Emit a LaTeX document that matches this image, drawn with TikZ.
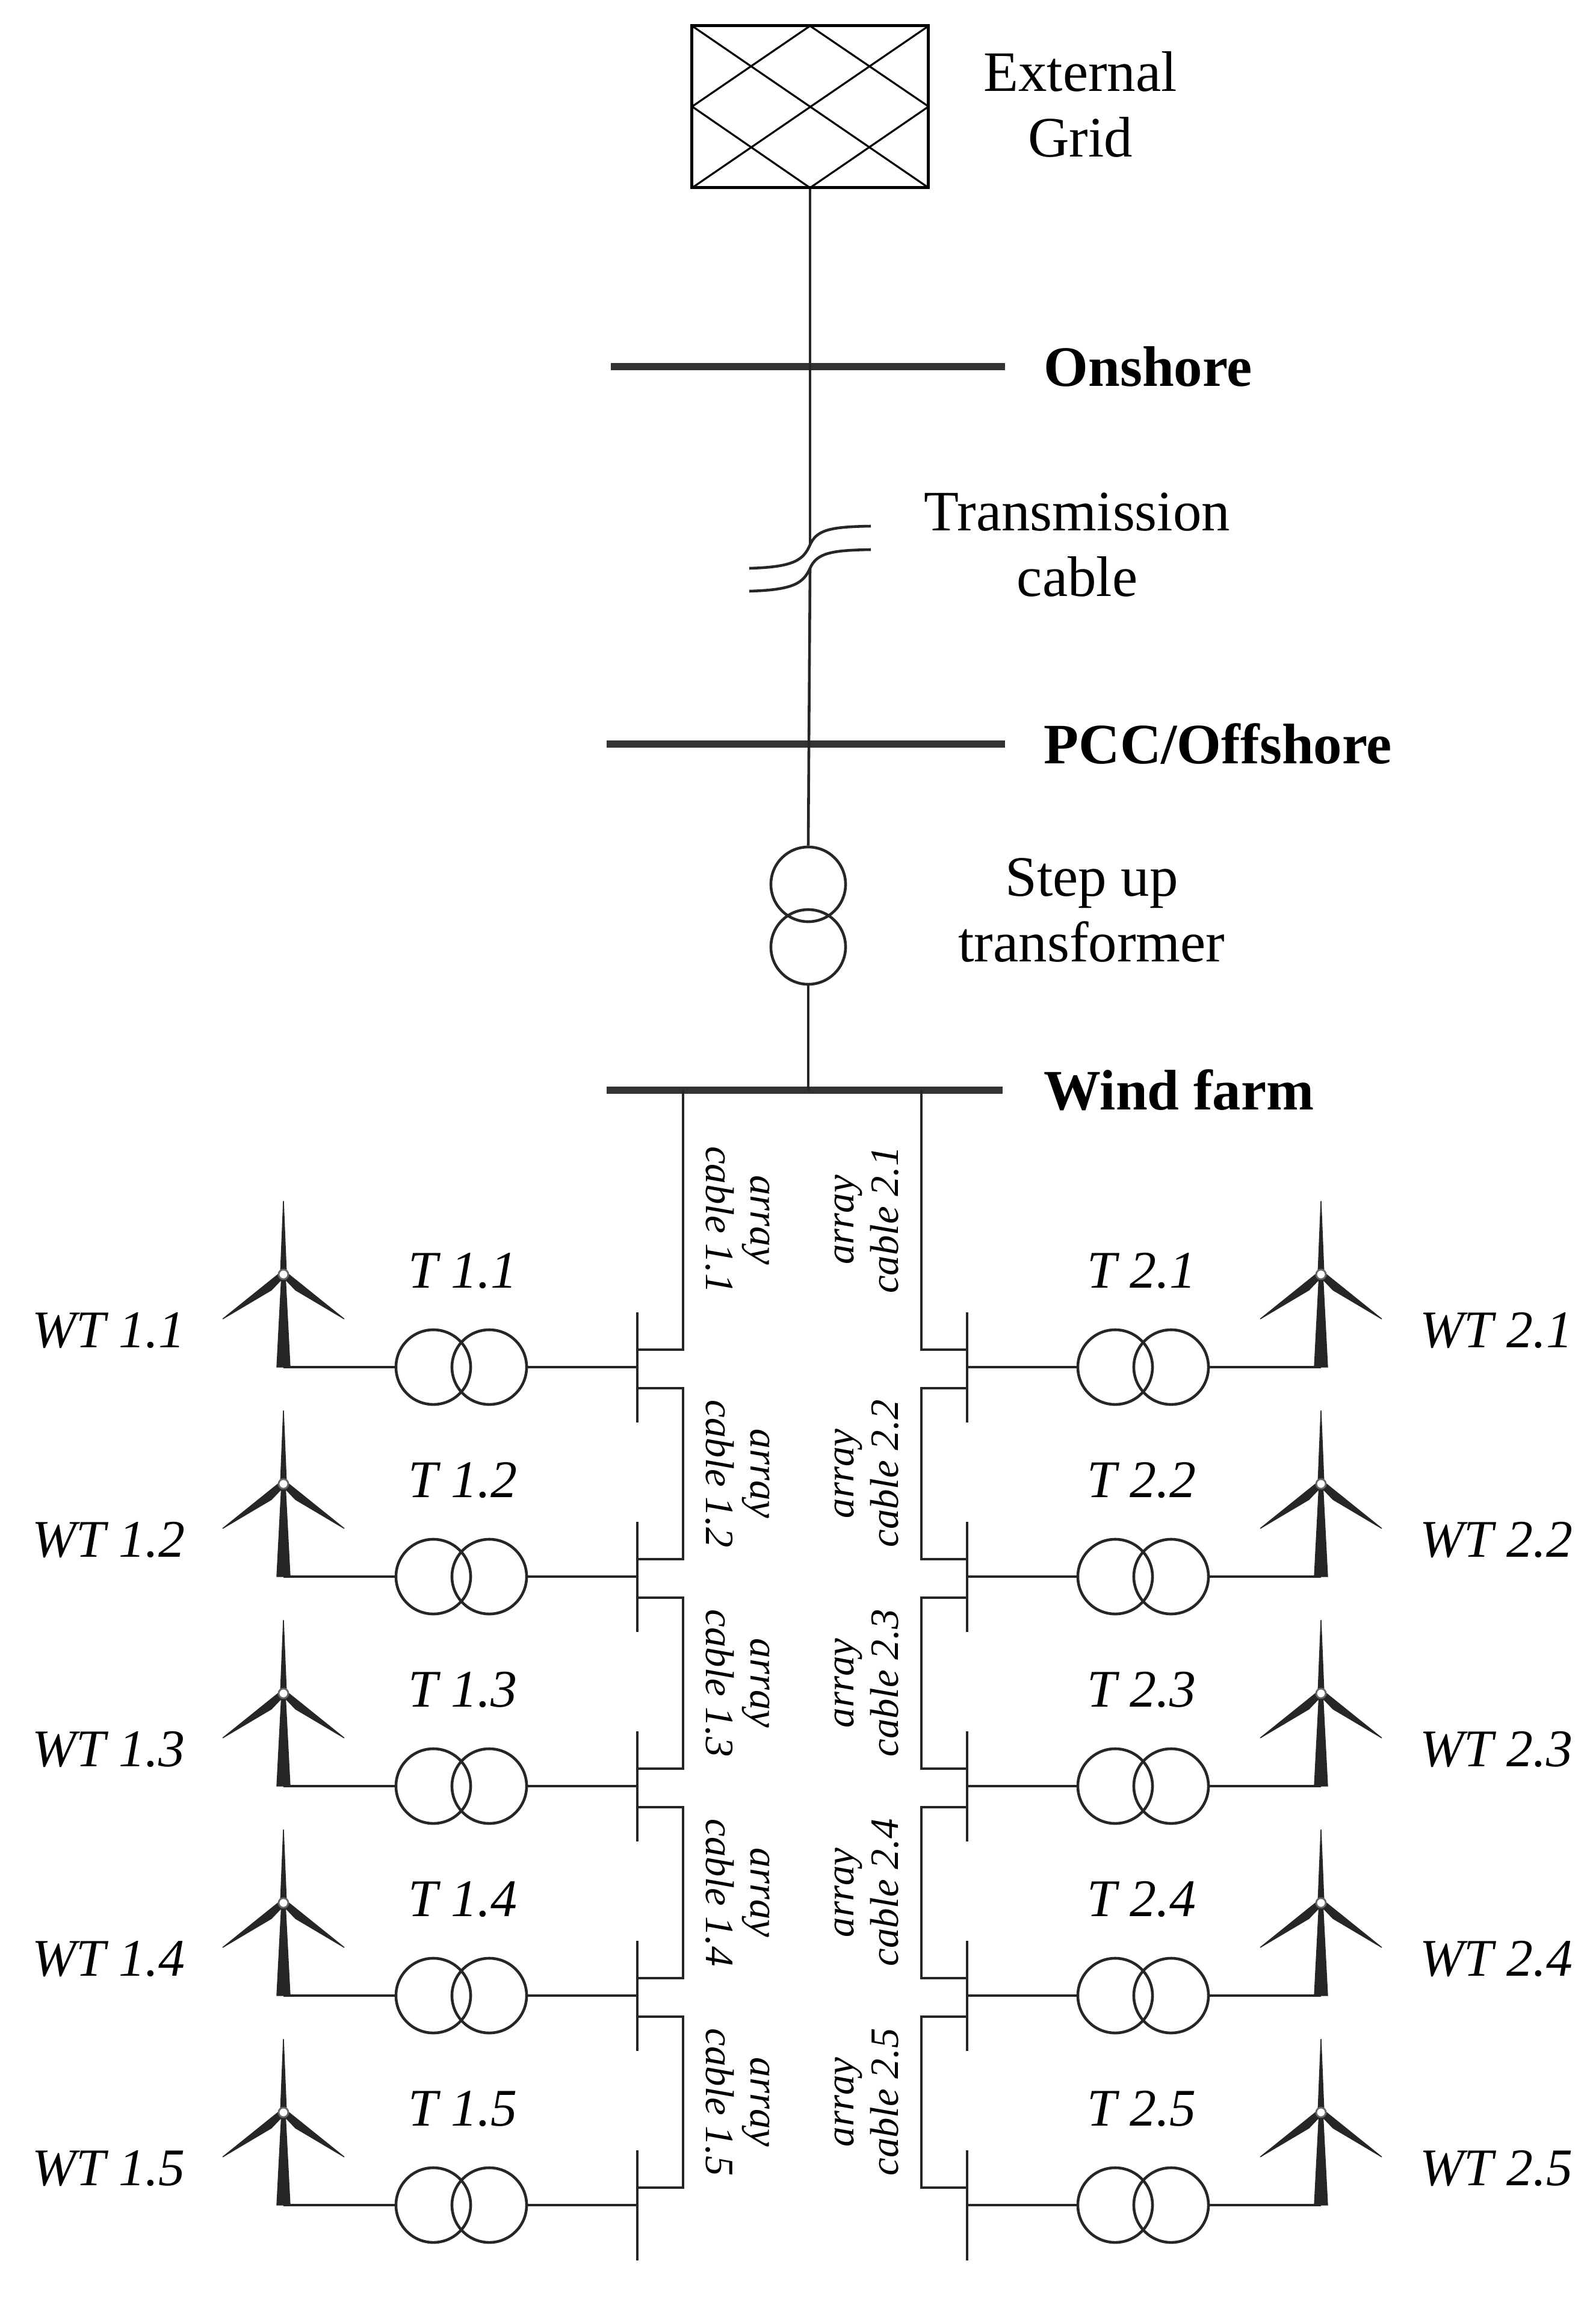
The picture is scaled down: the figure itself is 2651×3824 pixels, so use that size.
\documentclass[tikz,border=0pt]{standalone}
\usepackage{fontspec}
\setmainfont{Liberation Serif}
\begin{document}
\begin{tikzpicture}[x=0.01cm,y=-0.01cm,
  thin line/.style={line width=1.3pt,draw=black!85},
  bar/.style={line width=3.2pt,draw=black!80},
  trafo/.style={circle,draw=black!85,line width=1.3pt,minimum size=1.24cm,inner sep=0pt},
  lbl/.style={font=\fontsize{27}{31}\selectfont,align=center},
  blbl/.style={font=\fontsize{27}{31}\selectfont\bfseries,anchor=west},
  ilbl/.style={font=\fontsize{25}{29}\selectfont\itshape},
  clbl/.style={font=\fontsize{19}{21}\selectfont\itshape,align=center,inner sep=0pt},
  blade/.style={fill=black!85,draw=black!85,line width=0.4pt}]
\useasboundingbox (0,0) rectangle (2651,3824);
% external grid
\node[draw,line width=1.6pt,minimum width=3.93cm,minimum height=2.69cm,inner sep=0pt] (grid) at (1346,177) {};
\begin{scope}[line width=0.9pt]
\draw (1150,43)--(1543,312) (1346,43)--(1543,177) (1150,177)--(1346,312);
\draw (1543,43)--(1150,312) (1346,43)--(1150,177) (1543,177)--(1346,312);
\end{scope}
\node[lbl] (gridl) at (1795,174) {External\\Grid};
% buses
\draw[bar] (1015,609) coordinate (on1) -- (1670,609) coordinate (on2);
\node[blbl] (onl) at (1722,609) {Onshore};
\draw[bar] (1008,1236) coordinate (pc1) -- (1670,1236) coordinate (pc2);
\node[blbl] (pcl) at (1722,1236) {PCC/Offshore};
\draw[bar] (1008,1811) coordinate (wf1) -- (1666,1811) coordinate (wf2);
\node[blbl] (wfl) at (1722,1811) {Wind farm};
% main line with cable break
\coordinate (b1) at (1346,905);
\coordinate (b2) at (1346,944);
\draw[thin line] (grid.south) -- (b1);
\draw[thin line] (1245,944) .. controls (1320,942) and (1335,930) .. (b1) .. controls (1357,880) and (1380,875) .. (1447,874);
\draw[thin line] (1245,982) .. controls (1320,980) and (1335,968) .. (b2) .. controls (1357,919) and (1380,914) .. (1447,913);
\node[lbl] (tcl) at (1790,905) {Transmission\\cable};
\node[trafo] (su1) at (1343,1469) {};
\node[trafo] (su2) at (1343,1573) {};
\draw[thin line] (b2) -- (su1.north);
\draw[thin line] (su2.south) -- (1343,1811);
\node[lbl] (sul) at (1814,1512) {Step up\\transformer};
% feeders
\foreach \s/\m/\r in {1/1/-90,2/-1/90}{
 \foreach \k in {1,...,5}{
  \pgfmathsetmacro{\Y}{2271+348*(\k-1)}
  \pgfmathsetmacro{\Yp}{\k==1 ? 1811 : 2271+348*(\k-2)+35}
  \pgfmathsetmacro{\cx}{1333+\m*(1135-1333)}
  \pgfmathsetmacro{\bx}{1333+\m*(1059-1333)}
  \pgfmathsetmacro{\ta}{1333+\m*(720-1333)}
  \pgfmathsetmacro{\tb}{1333+\m*(813-1333)}
  \pgfmathsetmacro{\wx}{1333+\m*(471-1333)}
  \pgfmathsetmacro{\lx}{1333+\m*(1226-1333)}
  \pgfmathsetmacro{\Tx}{1333+\m*(769-1333)}
  \pgfmathsetmacro{\Wx}{1333+\m*(180-1333)}
  \coordinate (bt\s\k) at (\bx,\Y-91);
  \coordinate (bb\s\k) at (\bx,\Y+92);
  \draw[thin line] (bt\s\k) -- (bb\s\k);
  \coordinate (cs\s\k) at (\cx,\Yp);
  \coordinate (cj\s\k) at (\bx,\Y-29);
  \ifnum\k=1
   \draw[thin line] (cs\s\k) |- (cj\s\k);
  \else
   \draw[thin line] (\bx,\Yp) -- (cs\s\k) |- (cj\s\k);
  \fi
  \node[clbl,rotate=\r] (cl\s\k) at (\lx,{(\Yp+\Y-29)/2}) {array\\cable \s.\k};
  \node[trafo] (ta\s\k) at (\ta,\Y) {};
  \node[trafo] (tb\s\k) at (\tb,\Y) {};
  \coordinate (wb\s\k) at (\wx,\Y);
  \coordinate (bm\s\k) at (\bx,\Y);
  \draw[thin line] (wb\s\k) -- (ta\s\k);
  \draw[thin line] (tb\s\k) -- (bm\s\k);
  % turbine
  \coordinate (hub\s\k) at (\wx,\Y-154);
  \fill[blade] (\wx-11,\Y) -- (\wx+11,\Y) -- (\wx+3,\Y-154) -- (\wx-3,\Y-154) -- cycle;
  \fill[blade] (\wx-5,\Y-154) -- (\wx,\Y-276) -- (\wx+5,\Y-154) -- cycle;
  \fill[blade] (\wx-4,\Y-158) -- (\wx-101,\Y-80) -- (\wx-20,\Y-128) -- (\wx+1,\Y-150) -- cycle;
  \fill[blade] (\wx+4,\Y-158) -- (\wx+101,\Y-80) -- (\wx+20,\Y-128) -- (\wx-1,\Y-150) -- cycle;
  \draw[fill=white,draw=black!60,line width=0.8pt] (hub\s\k) circle (0.08cm);
  \node[ilbl] (tl\s\k) at (\Tx,\Y-160) {T \s.\k};
  \node[ilbl] (wl\s\k) at (\Wx,\Y-61) {WT \s.\k};
 }
}
\end{tikzpicture}
\end{document}
